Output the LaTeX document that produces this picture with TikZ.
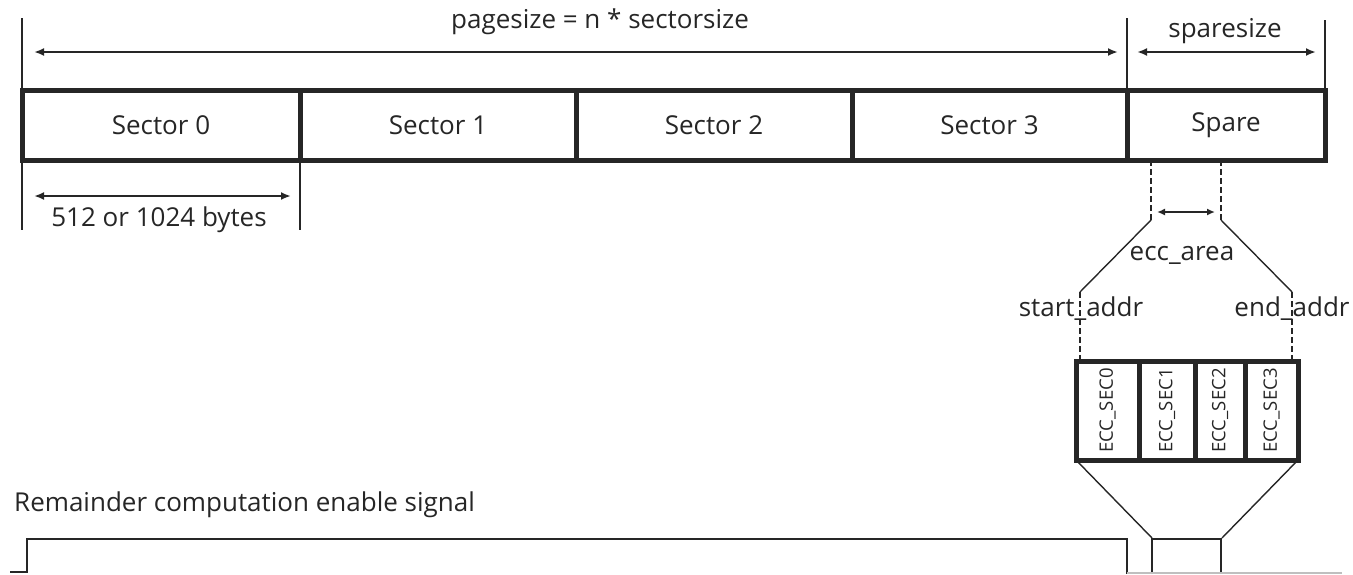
\documentclass[tikz,border=0pt]{standalone}
\usepackage{fontspec}
\setmainfont{Open Sans}
\usetikzlibrary{arrows.meta}
\begin{document}
\begin{tikzpicture}[x=1pt,y=-1pt,
  cell/.style={draw=black!85, line width=5pt, minimum height=70pt, inner sep=0pt, outer sep=0pt, anchor=north west, font=\fontsize{26}{28}\selectfont, text=black!85},
  ecccell/.style={draw=black!85, line width=5pt, minimum height=99pt, inner sep=0pt, outer sep=0pt, anchor=north west},
  ecctext/.style={rotate=90, font=\fontsize{18.5}{20}\selectfont, text=black!85},
  lbl/.style={font=\fontsize{26}{28}\selectfont, text=black!85, inner sep=0pt},
  dim/.style={draw=black!85, line width=2pt, {Latex[length=10pt,width=8pt]}-{Latex[length=10pt,width=8pt]}},
  guide/.style={draw=black!85, line width=2pt},
  dashline/.style={draw=black!85, line width=2pt, dash pattern=on 6pt off 3pt},
  diag/.style={draw=black!85, line width=1.4pt},
  sig/.style={draw=black!85, line width=2pt}
]
\useasboundingbox (0,0) rectangle (1353,574);

% main row
\node[cell, minimum width=278pt] (s0) at (22,90) {Sector 0};
\node[cell, minimum width=276pt] (s1) at (300,90) {Sector 1};
\node[cell, minimum width=276pt] (s2) at (576,90) {Sector 2};
\node[cell, minimum width=275pt] (s3) at (852,90) {Sector 3};
\node[cell, minimum width=198pt] (sp) at (1127,90) {Spare};

% top dimension
\coordinate (t0) at (22,18);
\coordinate (t1) at (1127,18);
\coordinate (t2) at (1325,20);
\draw[guide] (t0) -- (s0.north west);
\draw[guide] (t1) -- (sp.north west);
\draw[guide] (t2) -- (sp.north east);
\coordinate (a0) at (34,52);
\coordinate (a1) at (1118,52);
\draw[dim] (a0) -- (a1);
\coordinate (a2) at (1137,52);
\coordinate (a3) at (1316,52);
\draw[dim] (a2) -- (a3);
\node[lbl] (pagesize) at (600,22) {pagesize = n * sectorsize};
\node[lbl] (sparesize) at (1225,31) {sparesize};

% sector dimension
\coordinate (b0) at (22,230);
\coordinate (b1) at (300,230);
\draw[guide] (s0.south west) -- (b0);
\draw[guide] (s1.south west) -- (b1);
\coordinate (c0) at (34,196);
\coordinate (c1) at (291,196);
\draw[dim] (c0) -- (c1);
\node[lbl] (bytes) at (159,220) {512 or 1024 bytes};

% ecc cells
\node[ecccell, minimum width=63pt] (e0) at (1076,361) {};
\node[ecccell, minimum width=56pt] (e1) at (1139,361) {};
\node[ecccell, minimum width=50pt] (e2) at (1195,361) {};
\node[ecccell, minimum width=53pt] (e3) at (1245,361) {};
\node[ecctext] (t-e0) at (e0.center) {ECC\_SEC0};
\node[ecctext] (t-e1) at (e1.center) {ECC\_SEC1};
\node[ecctext] (t-e2) at (e2.center) {ECC\_SEC2};
\node[ecctext] (t-e3) at (e3.center) {ECC\_SEC3};

% ecc area funnel
\coordinate (d0) at (1151,160);
\coordinate (d1) at (1151,220);
\coordinate (d2) at (1080,292);
\coordinate (d3) at (1080,361);
\coordinate (f0) at (1221,160);
\coordinate (f1) at (1221,220);
\coordinate (f2) at (1292,292);
\coordinate (f3) at (1292,361);
\draw[dashline] (d0) -- (d1);
\draw[diag] (d1) -- (d2);
\draw[dashline] (d2) -- (d3);
\draw[dashline] (f0) -- (f1);
\draw[diag] (f1) -- (f2);
\draw[dashline] (f2) -- (f3);
\coordinate (g0) at (1157,212);
\coordinate (g1) at (1215,212);
\draw[dim, {Latex[length=8pt,width=7pt]}-{Latex[length=8pt,width=7pt]}] (g0) -- (g1);
\node[lbl] (ecc) at (1182,255) {ecc\_area};
\node[lbl] (start) at (1081,309) {start\_addr};
\node[lbl] (end) at (1292,309) {end\_addr};

% signal
\coordinate (h0) at (1152,538);
\coordinate (h1) at (1222,538);
\draw[diag] (e0.south west) -- (h0);
\draw[diag] (e3.south east) -- (h1);
\node[lbl, anchor=west] (rem) at (14,505) {Remainder computation enable signal};
\coordinate (p0) at (10,572);
\coordinate (p1) at (27,572);
\coordinate (p2) at (27,539);
\coordinate (p3) at (1127,539);
\coordinate (p4) at (1127,574);
\draw[sig] (p0) -- (p1) -- (p2) -- (p3) -- (p4);
\coordinate (q0) at (1152,574);
\coordinate (q1) at (1152,539);
\coordinate (q2) at (1221,539);
\coordinate (q3) at (1221,574);
\draw[sig] (q0) -- (q1) -- (q2) -- (q3);
\coordinate (r0) at (1127,573);
\coordinate (r1) at (1342,573);
\draw[black!25, line width=1.2pt] (r0) -- (r1);
\end{tikzpicture}
\end{document}
